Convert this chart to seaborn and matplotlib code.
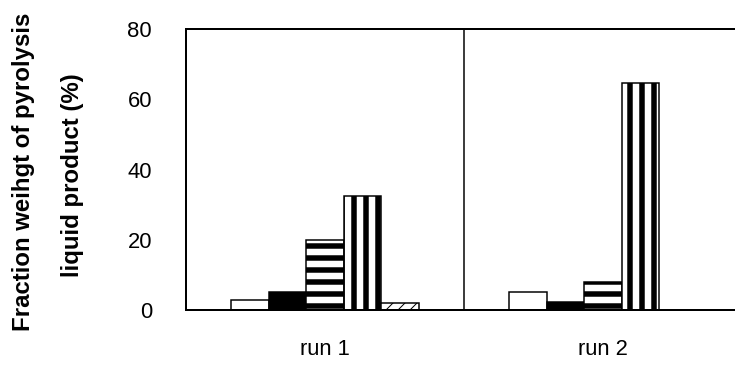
import matplotlib
matplotlib.use("Agg")
import matplotlib.pyplot as plt
import seaborn as sns
import pandas as pd

runs = ["run 1", "run 2"]
series = ["A", "B", "C", "D", "E"]
run1_values = [2.8, 5.2, 20.0, 32.5, 1.9]
run2_values = [5.0, 2.4, 8.0, 64.5, 0.0]
yticks = [0, 20, 40, 60, 80]
ylabel_lines = ["Fraction weihgt of pyrolysis", "liquid product (%)"]

rows = []
for r, vals in zip(runs, [run1_values, run2_values]):
    for s, v in zip(series, vals):
        rows.append({"run": r, "series": s, "value": v})
df = pd.DataFrame(rows)

sns.set_style("white")
plt.rcParams["font.family"] = ["Liberation Sans", "DejaVu Sans"]
plt.rcParams["hatch.linewidth"] = 5.5
plt.rcParams["text.color"] = "black"
plt.rcParams["xtick.color"] = "black"
plt.rcParams["ytick.color"] = "black"
plt.rcParams["xtick.labelcolor"] = "black"
plt.rcParams["ytick.labelcolor"] = "black"

DPI = 72
W, H = 735, 365
fig = plt.figure(figsize=(W / DPI, H / DPI), dpi=DPI)
ax = fig.add_axes([186 / W, (H - 310) / H, (742 - 186) / W, (310 - 29) / H])

sns.barplot(data=df, x="run", y="value", hue="series", order=runs,
            hue_order=series, width=0.673, palette=["white"] * 5,
            edgecolor="black", linewidth=1.5, legend=False, ax=ax,
            saturation=1)

styles = [
    dict(fc="white", hatch=None),
    dict(fc="black", hatch=None),
    dict(fc="white", hatch="-"),
    dict(fc="white", hatch="|"),
    dict(fc="white", hatch="//"),
]
for cont, st in zip(ax.containers, styles):
    for p in cont.patches:
        p.set_facecolor(st["fc"])
        p.set_edgecolor("black")
        if st["hatch"]:
            p.set_hatch(st["hatch"])
            if st["hatch"] == "//" and hasattr(p, "set_hatch_linewidth"):
                p.set_hatch_linewidth(1.0)

ax.set_xlim(-0.5, 1.5)
ax.set_ylim(0, 80)
ax.set_yticks(yticks)
ax.set_yticklabels([str(t) for t in yticks])
ax.axvline(0.5, color="black", lw=1.5)
ax.tick_params(axis="y", direction="in", length=12, width=1.5, labelsize=22,
               pad=34, colors="black")
ax.tick_params(axis="x", length=0, labelsize=22, pad=29, colors="black")
ax.set_xlabel("")
ax.set_ylabel("")
for sp in ax.spines.values():
    sp.set_color("black")
    sp.set_linewidth(2)

fig.text(24 / W, 1 - 172 / H, ylabel_lines[0], rotation=90, ha="center", va="center",
         fontsize=24, fontweight="bold", color="black")
fig.text(72 / W, 1 - 175 / H, ylabel_lines[1], rotation=90, ha="center", va="center",
         fontsize=24, fontweight="bold", color="black")

fig.savefig("out.png", dpi=DPI)
